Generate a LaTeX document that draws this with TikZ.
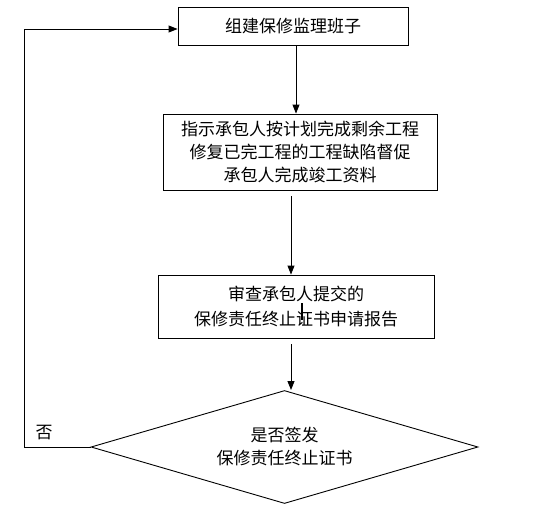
\documentclass[tikz,border=0pt]{standalone}
\usepackage{fontspec}
\setmainfont{Noto Sans CJK SC}
\usepackage{tikz}
\usetikzlibrary{positioning, shapes.geometric, arrows.meta}

\tikzset{
  stepbox/.style={rectangle, draw=black, line width=0.9pt, inner sep=0pt, align=center},
  choice/.style={diamond, draw=black, line width=0.9pt, inner sep=0pt, aspect=3.4,
    minimum width=387pt, minimum height=113pt, align=center},
  flow/.style={line width=0.9pt, -{Triangle[width=7pt,length=9pt]}}
}

\begin{document}
\begin{tikzpicture}[x=1pt, y=-1pt, font=\fontsize{17}{23}\selectfont]

\useasboundingbox (0,0) rectangle (556,506);

\node[stepbox, minimum width=230pt, minimum height=38pt] (team) at (293,26) {组建保修监理班子};

\node[stepbox, minimum width=274pt, minimum height=76pt] (guide) at (300,152)
  {指示承包人按计划完成剩余工程\\修复已完工程的工程缺陷督促\\承包人完成竣工资料};

\node[stepbox, minimum width=276pt, minimum height=63pt] (check) at (296,306.5)
  {审查承包人提交的\\[2pt]保修责任终止证书申请报告};

\node[choice] (sign) at (284.5,447) {是否签发\\保修责任终止证书};

\node (no) at (44,433) {否};

\coordinate (back) at (24,447);

\draw[flow] (team.south -| 296,0) -- (guide.north -| 296,0);
\draw[flow, shorten <=6pt] (guide.south -| 291,0) -- (check.north -| 291,0);
\draw[flow, shorten <=6pt] (check.south -| 291,0) -- (291,390);
\draw[flow] (sign.west) -- (back) |- ([yshift=-3pt]team.west);

% cursor mark
\fill[black] (301,303) rectangle (303,320);

\end{tikzpicture}
\end{document}
